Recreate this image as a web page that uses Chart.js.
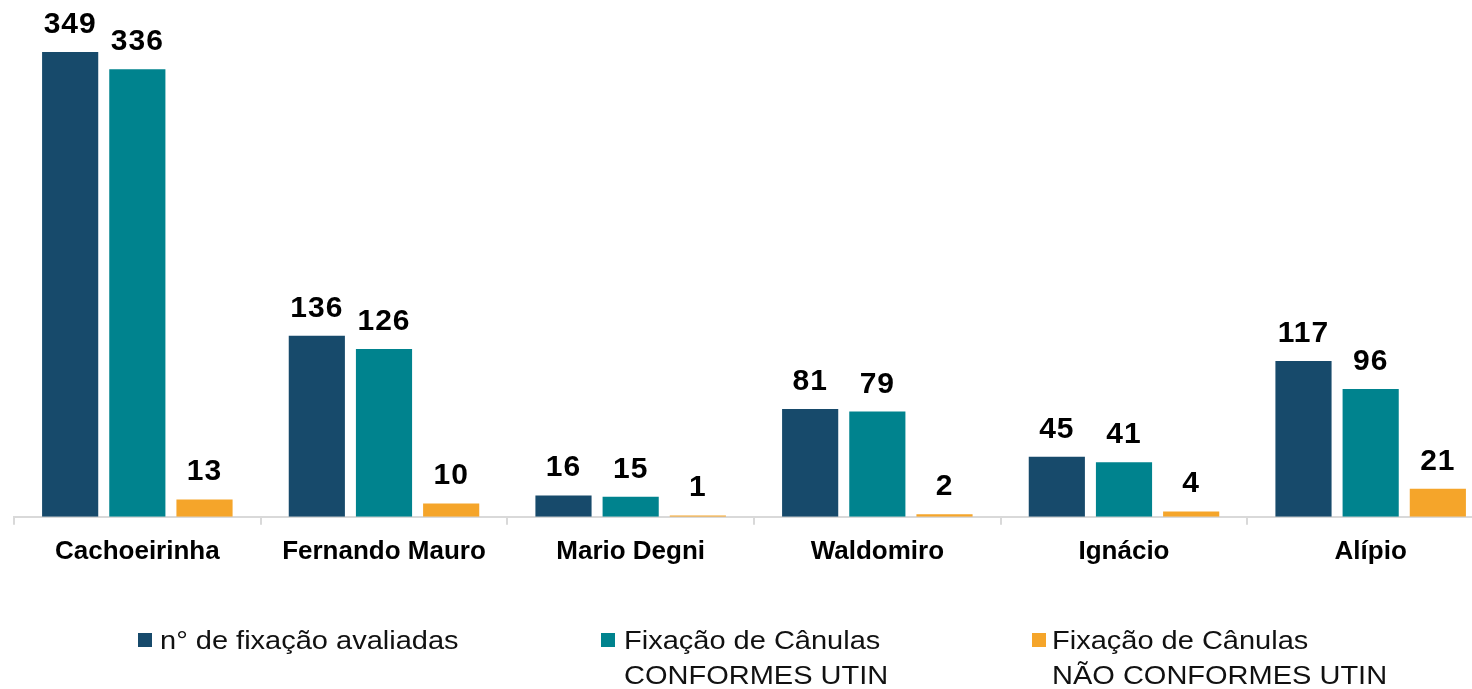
<!DOCTYPE html>
<html>
<head>
<meta charset="utf-8">
<script src="https://cdn.jsdelivr.net/npm/chart.js@4.4.1/dist/chart.umd.min.js"></script>
<style>
  html, body { margin: 0; padding: 0; background: #fff; overflow: hidden; }
  #wrap { position: relative; width: 1504px; height: 600px; }
  #legend { position: absolute; top: 0; left: 0; width: 1472px; height: 689px; pointer-events: none;
            font-family: "Liberation Sans", Arial, sans-serif; font-size: 25px; color: #111; }
  .item { position: absolute; line-height: 35px; white-space: nowrap; transform: scaleX(1.16); transform-origin: left top; }
  .box { position: absolute; width: 14px; height: 14px; }
</style>
</head>
<body>
<div id="wrap"><canvas id="chart"></canvas></div>
<div id="legend"></div>
<script>
const categories = ['Cachoeirinha', 'Fernando Mauro', 'Mario Degni', 'Waldomiro', 'Ignácio', 'Alípio'];
const avaliadas = [349, 136, 16, 81, 45, 117];
const conformes = [336, 126, 15, 79, 41, 96];
const naoConformes = [13, 10, 1, 2, 4, 21];
const seriesLabels = [
    ['n° de fixação avaliadas'],
    ['Fixação de Cânulas', 'CONFORMES UTIN'],
    ['Fixação de Cânulas', 'NÃO CONFORMES UTIN']
];
const colors = ['#174a6b', '#00838e', '#f5a52a'];

// value labels above each bar
const barLabels = {
    id: 'barLabels',
    afterDatasetsDraw(chart) {
        const ctx = chart.ctx;
        ctx.save();
        ctx.font = 'bold 30px "Liberation Sans", Arial, sans-serif';
        ctx.letterSpacing = '1px';
        ctx.fillStyle = '#000';
        ctx.textAlign = 'center';
        ctx.textBaseline = 'alphabetic';
        chart.data.datasets.forEach((ds, i) => {
            chart.getDatasetMeta(i).data.forEach((bar, j) => {
                ctx.fillText(String(ds.data[j]), bar.x, bar.y - 19);
            });
        });
        ctx.restore();
    }
};

const ctx = document.getElementById('chart').getContext('2d');
new Chart(ctx, {
    type: 'bar',
    data: {
        labels: categories,
        datasets: [
            {label: seriesLabels[0].join(' '), data: avaliadas, backgroundColor: colors[0]},
            {label: seriesLabels[1].join(' '), data: conformes, backgroundColor: colors[1]},
            {label: seriesLabels[2].join(' '), data: naoConformes, backgroundColor: colors[2]}
        ]
    },
    options: {
        responsive: true,
        maintainAspectRatio: false,
        animation: false,
        categoryPercentage: 0.817,
        barPercentage: 0.836,
        layout: {padding: {left: 14, right: 10, top: 0, bottom: 22}},
        plugins: {
            legend: {display: false},
            tooltip: {enabled: false}
        },
        scales: {
            x: {
                offset: true,
                border: {display: true, color: '#d9d9d9', width: 2},
                grid: {
                    offset: true,
                    drawOnChartArea: false,
                    drawTicks: true,
                    tickLength: 8,
                    color: '#d9d9d9',
                    lineWidth: 2
                },
                ticks: {
                    color: '#000',
                    padding: 11,
                    font: {family: '"Liberation Sans", Arial, sans-serif', size: 26, weight: 'bold'}
                }
            },
            y: {
                display: false,
                min: 0,
                max: 388
            }
        }
    },
    plugins: [barLabels]
});

// legend with two-line labels
const legendPos = [
    {box: 138, text: 160},
    {box: 601, text: 624},
    {box: 1032, text: 1052}
];
const legend = document.getElementById('legend');
seriesLabels.forEach((lines, i) => {
    const b = document.createElement('div');
    b.className = 'box';
    b.style.left = legendPos[i].box + 'px';
    b.style.top = '633px';
    b.style.background = colors[i];
    legend.appendChild(b);
    const t = document.createElement('div');
    t.className = 'item';
    t.style.left = legendPos[i].text + 'px';
    t.style.top = '623px';
    t.innerHTML = lines.join('<br>');
    legend.appendChild(t);
});
</script>
</body>
</html>
